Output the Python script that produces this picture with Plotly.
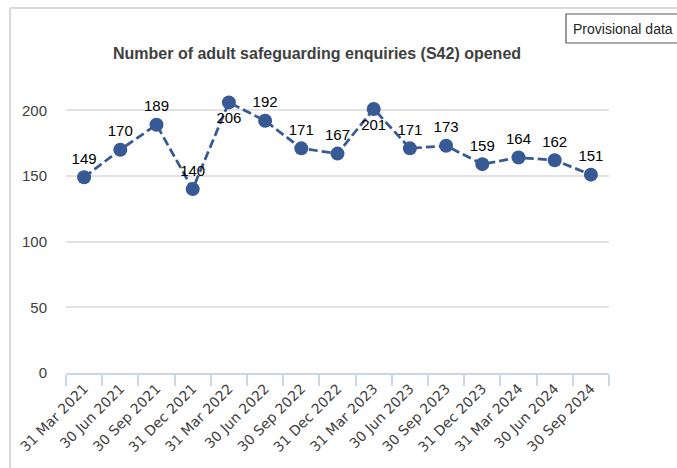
import plotly.graph_objects as go

quarters = ["31 Mar 2021", "30 Jun 2021", "30 Sep 2021", "31 Dec 2021", "31 Mar 2022",
            "30 Jun 2022", "30 Sep 2022", "31 Dec 2022", "31 Mar 2023", "30 Jun 2023",
            "30 Sep 2023", "31 Dec 2023", "31 Mar 2024", "30 Jun 2024", "30 Sep 2024"]
enquiries = [149, 170, 189, 140, 206, 192, 171, 167, 201, 171, 173, 159, 164, 162, 151]
label_pos = ["top center", "top center", "top center", "top center", "bottom center",
             "top center", "top center", "top center", "bottom center", "top center",
             "top center", "top center", "top center", "top center", "top center"]

W, H = 677, 468
L, R, T, B = 66, 68, 84, 95
pw, ph = W - L - R, H - T - B

def px_x(x):
    return (x - L) / pw

def px_y(y):
    return (H - B - y) / ph

color = "#385a94"

fig = go.Figure()
fig.add_trace(go.Scatter(
    x=quarters, y=enquiries, mode="lines+markers+text",
    line=dict(color=color, width=2.75, dash="9px,4px"),
    marker=dict(color=color, size=14),
    text=[str(v) for v in enquiries], textposition=label_pos,
    textfont=dict(family="Liberation Sans, Arial", size=15, color="#000000"),
    hoverinfo="skip", cliponaxis=False,
))

fig.update_layout(
    width=W, height=H, margin=dict(l=L, r=R, t=T, b=B, autoexpand=False),
    paper_bgcolor="white", plot_bgcolor="white", showlegend=False,
    xaxis=dict(type="category", range=[-0.5, len(quarters) - 0.5], tickson="boundaries",
               ticks="outside", ticklen=11,
               tickwidth=1.5, tickcolor="#ccd6ea", showline=True, linecolor="#ccd6ea",
               linewidth=2, showgrid=False, tickangle=-45, automargin=False,
               tickfont=dict(family="DejaVu Sans", size=14, color="#404040")),
    yaxis=dict(range=[0, 220], dtick=50, showgrid=True, gridcolor="#e3e3e3", gridwidth=1.5,
               zeroline=False, showline=False, ticks="", ticklabelstandoff=18,
               automargin=False,
               tickfont=dict(family="Liberation Sans, Arial", size=15, color="#404040")),
    annotations=[
        dict(text="<b>Number of adult safeguarding enquiries (S42) opened</b>",
             xref="paper", yref="paper", x=px_x(317), y=px_y(54), xanchor="center",
             yanchor="middle", showarrow=False,
             font=dict(family="Liberation Sans, Arial", size=16, color="#404040")),
        dict(text="Provisional data", xref="paper", yref="paper", x=px_x(571), y=px_y(29),
             xanchor="left", yanchor="middle", showarrow=False,
             font=dict(family="Liberation Sans, Arial", size=14, color="#262626")),
    ],
    shapes=[
        dict(type="line", xref="paper", yref="paper", x0=px_x(10), x1=px_x(10),
             y0=px_y(8), y1=px_y(470), line=dict(color="#d9d9d9", width=2)),
        dict(type="line", xref="paper", yref="paper", x0=px_x(10), x1=px_x(690),
             y0=px_y(8), y1=px_y(8), line=dict(color="#d9d9d9", width=2)),
        dict(type="rect", xref="paper", yref="paper", x0=px_x(566), x1=px_x(700),
             y0=px_y(43), y1=px_y(14), line=dict(color="#595959", width=1.2)),
    ],
)

fig.write_html("out.html", config={"displayModeBar": False},
               post_script="document.body.style.margin='0';")
